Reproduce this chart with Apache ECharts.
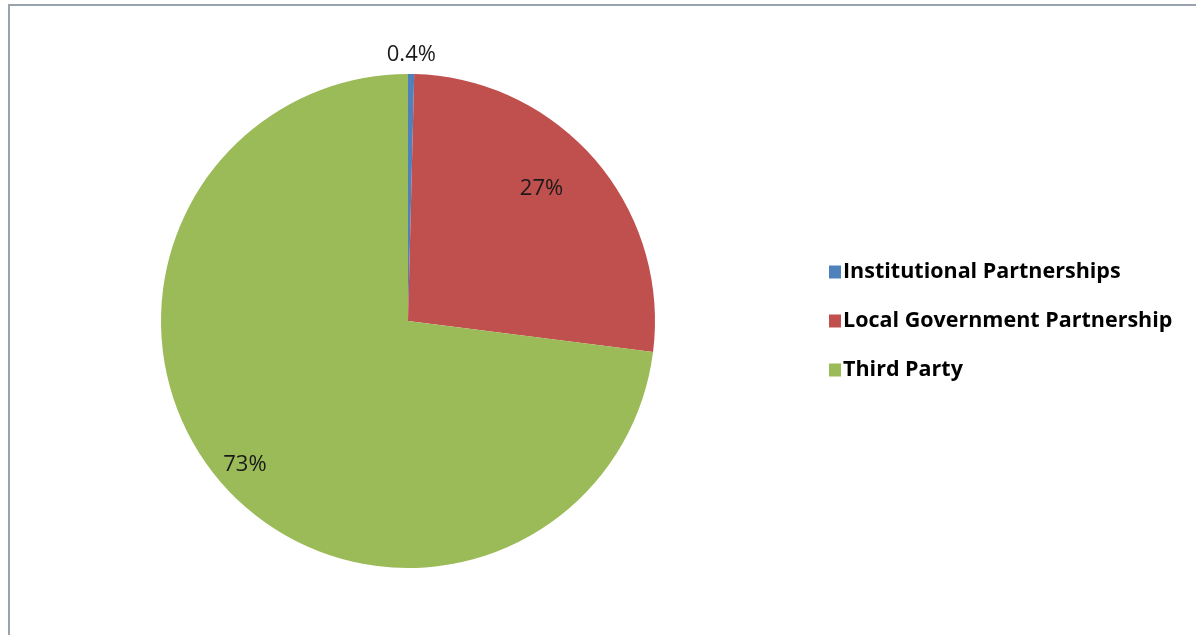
<!DOCTYPE html>
<html>
<head>
<meta charset="utf-8">
<script src="https://cdn.jsdelivr.net/npm/echarts@6/dist/echarts.min.js"></script>
<style>
  html, body { margin: 0; padding: 0; background: #ffffff; }
  #frame { position: absolute; left: 8px; top: 4px; width: 1200px; height: 640px; border: 2px solid #98a3ad; box-sizing: border-box; }
  #chart { position: absolute; left: 0; top: 0; width: 1196px; height: 635px; }
</style>
</head>
<body>
<div id="frame"></div>
<div id="chart"></div>
<script>
const categories = ['Institutional Partnerships', 'Local Government Partnership', 'Third Party'];
const values = [0.4, 26.6, 73.0];
const colors = ['#4F81BD', '#C0504D', '#9BBB59'];
const labelRadiusRatio = [1.08, 0.76, 0.88];
const labelAngleShift = [0, -4, 0];

const CX = 408, CY = 321, R = 247;
const total = values.reduce((a, b) => a + b, 0);

const chart = echarts.init(document.getElementById('chart'), null, { renderer: 'canvas' });

function fmt(v) {
  return (v < 1 ? v.toFixed(1) : Math.round(v)) + '%';
}

chart.setOption({
  animation: false,
  backgroundColor: 'transparent',
  legend: {
    orient: 'vertical',
    left: 824,
    top: 256,
    icon: 'rect',
    itemWidth: 12,
    itemHeight: 13,
    itemGap: 27,
    data: categories,
    textStyle: { fontFamily: 'Open Sans', fontWeight: 'bold', fontSize: 21.5, lineHeight: 20, color: '#000', padding: [0, 0, 0, -3] }
  },
  series: [{
    type: 'pie',
    center: [CX, CY],
    radius: [0, R],
    startAngle: 90,
    clockwise: true,
    avoidLabelOverlap: false,
    minAngle: 0,
    data: categories.map((c, i) => ({ name: c, value: values[i], itemStyle: { color: colors[i] } })),
    label: {
      show: true,
      position: 'inside',
      formatter: p => fmt(p.value),
      fontFamily: 'Open Sans',
      fontSize: 22,
      color: '#1a1a1a'
    },
    labelLine: { show: false },
    labelLayout: function (params) {
      const i = params.dataIndex;
      let before = 0;
      for (let k = 0; k < i; k++) before += values[k];
      const mid = (before + values[i] / 2) / total * 2 * Math.PI + labelAngleShift[i] * Math.PI / 180;
      const r = R * labelRadiusRatio[i];
      return {
        x: CX + r * Math.sin(mid),
        y: CY - r * Math.cos(mid),
        align: 'center',
        verticalAlign: 'middle'
      };
    },
    emphasis: { disabled: true }
  }]
});
</script>
</body>
</html>
